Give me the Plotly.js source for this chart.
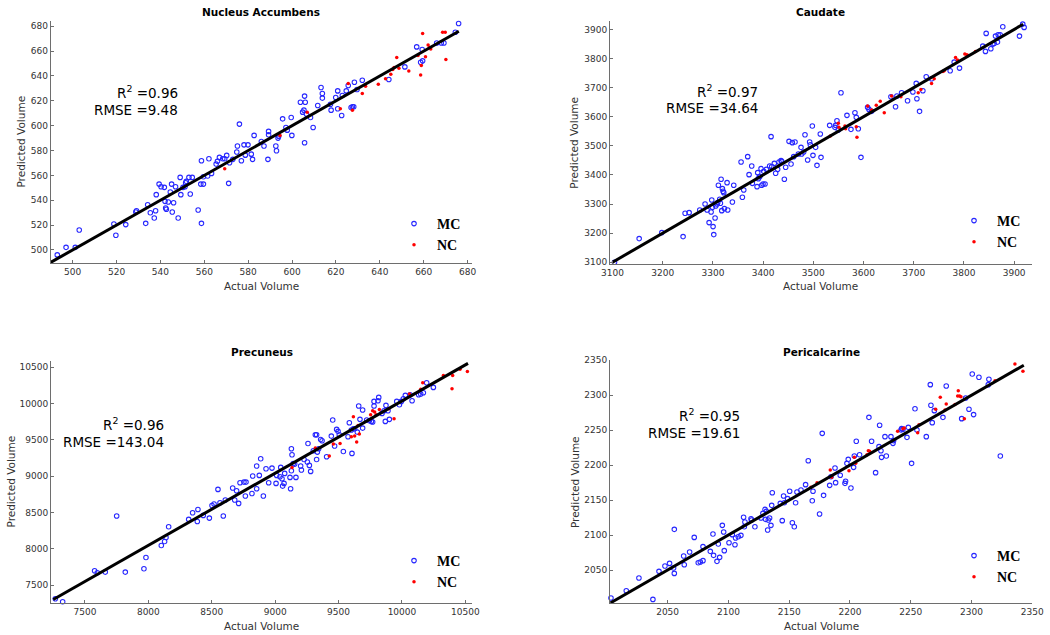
<!DOCTYPE html>
<html>
<head>
<meta charset="utf-8">
<script src="https://cdn.plot.ly/plotly-3.0.1.min.js"></script>
<style>html,body{margin:0;padding:0;background:#fff;}#chart{width:1050px;height:635px;}</style>
</head>
<body>
<div id="chart"></div>
<script>
// ---------- Nucleus Accumbens ----------
const naMcActual = [493.0,497.0,501.2,503.0,518.8,519.7,524.2,528.8,529.1,533.3,534.2,535.4,537.2,538.1,537.8,539.4,540.3,541.8,542.1,542.4,542.7,543.6,544.5,545.1,545.4,546.0,546.9,548.1,549.0,549.3,550.3,551.2,551.5,551.8,553.0,553.6,554.5,557.2,558.7,558.4,558.7,559.6,559.6,561.5,562.1,563.3,565.4,566.0,566.9,568.4,569.3,570.2,571.1,571.5,573.0,574.8,575.1,576.0,576.9,578.1,578.7,579.9,581.4,582.0,582.7,586.0,587.2,589.3,589.3,589.0,592.6,592.9,593.6,593.9,595.7,597.2,597.8,599.6,599.9,603.8,604.8,605.7,606.0,605.7,605.4,606.6,608.4,609.6,611.7,613.2,613.8,613.8,617.5,617.8,619.9,620.8,620.8,622.6,622.9,624.7,625.6,626.9,627.5,628.1,628.4,629.6,632.0,644.1,651.4,656.8,659.3,658.6,659.5,665.9,668.0,669.2,674.4,675.9];
const naMcPred = [496.0,502.1,502.1,516.1,520.9,511.8,520.4,530.5,531.6,521.4,536.4,530.0,525.7,544.5,531.6,553.0,550.9,550.4,539.1,533.8,532.7,538.6,546.6,553.0,530.5,538.0,550.9,525.7,558.4,544.5,550.4,550.9,554.1,555.2,558.4,545.0,558.4,532.1,521.4,553.0,571.8,553.0,558.9,559.5,573.4,561.6,569.1,571.3,574.5,573.4,573.4,576.1,553.6,570.2,572.9,578.8,583.6,601.3,571.8,584.6,576.3,584.6,577.1,572.9,592.2,587.3,583.6,595.4,592.7,572.9,583.6,579.8,590.0,591.6,605.5,598.6,596.4,606.6,592.2,618.9,610.9,623.8,618.9,586.3,612.5,609.3,606.6,598.6,616.3,630.7,625.9,622.2,617.3,612.5,622.7,628.0,613.6,608.2,624.3,628.0,632.3,614.7,615.2,615.2,635.0,629.1,636.6,637.2,647.3,663.4,661.3,651.1,652.2,666.6,666.6,666.6,675.2,682.2];
const naNcActual = [569.3,594.5,606.9,622.0,625.6,627.5,632.0,633.5,639.3,642.6,645.0,646.5,647.7,648.7,653.2,657.4,658.6,658.9,659.5,660.8,662.0,662.6,663.2,668.6,669.8,670.1,645.9];
const naNcPred = [565.4,592.2,610.9,613.6,633.9,612.5,625.9,631.8,633.4,637.7,641.4,646.8,654.8,646.3,644.1,656.4,640.9,648.4,674.1,655.4,665.0,662.9,661.8,675.2,675.2,653.2,645.2];
const naFitX = [490, 676];
const naFitY = [490, 676];
const naTicks = [500,520,540,560,580,600,620,640,660,680];

// ---------- Caudate ----------
const caMcActual = [3104.0,3153.1,3198.2,3240.6,3244.6,3252.6,3273.8,3284.4,3288.4,3292.4,3296.4,3297.7,3299.0,3300.3,3301.7,3304.3,3305.6,3308.3,3309.6,3310.9,3313.6,3314.9,3316.3,3317.6,3318.9,3320.2,3321.6,3322.9,3328.2,3329.5,3338.8,3341.5,3356.1,3358.7,3361.4,3369.3,3372.0,3377.3,3378.6,3387.9,3389.2,3390.5,3393.2,3395.9,3397.2,3399.8,3401.2,3403.8,3406.5,3413.1,3415.8,3417.1,3422.4,3425.0,3429.0,3431.7,3435.7,3437.0,3442.3,3444.9,3451.6,3455.6,3458.2,3460.9,3463.5,3470.2,3475.5,3476.8,3480.8,3483.4,3488.7,3492.7,3494.0,3498.0,3499.3,3504.6,3507.3,3513.9,3515.3,3532.5,3543.1,3544.4,3547.1,3549.8,3555.1,3567.0,3575.0,3582.9,3585.6,3589.6,3594.9,3608.1,3610.8,3616.1,3654.6,3663.8,3666.5,3675.8,3687.7,3698.3,3705.0,3706.3,3711.6,3718.2,3724.9,3735.5,3772.6,3780.6,3791.2,3837.6,3842.9,3844.3,3853.6,3857.5,3860.2,3862.9,3866.8,3868.2,3872.1,3877.4,3910.6,3917.2,3919.9];
const caMcPred = [3100,3181.3,3201.9,3188.1,3268.2,3270.5,3279.7,3300.3,3279.7,3236.2,3272.8,3314.0,3288.8,3222.5,3195.0,3252.2,3293.4,3300.3,3304.9,3364.4,3316.3,3302.6,3385.0,3277.4,3352.9,3343.8,3339.2,3284.3,3373.5,3279.7,3307.2,3364.4,3444.5,3323.2,3348.4,3462.8,3401.0,3430.8,3371.2,3359.8,3407.9,3387.3,3394.1,3421.6,3364.4,3369.0,3412.4,3369.0,3419.3,3430.8,3531.5,3428.5,3439.9,3405.6,3419.3,3444.5,3449.1,3446.8,3385.0,3426.2,3515.5,3437.6,3510.9,3462.8,3513.2,3472.0,3494.8,3472.0,3478.8,3538.3,3451.4,3513.2,3504.0,3568.1,3467.4,3494.8,3433.0,3540.6,3460.5,3570.4,3563.5,3570.4,3586.4,3554.4,3682.5,3604.7,3556.7,3613.9,3597.9,3558.9,3460.5,3632.2,3625.3,3618.5,3668.8,3634.5,3671.1,3682.5,3655.1,3684.8,3714.6,3661.9,3618.5,3689.4,3737.5,3730.6,3758.1,3787.8,3767.2,3842.8,3824.5,3886.3,3833.6,3849.6,3851.9,3877.1,3856.5,3881.7,3881.7,3909.2,3877.1,3918.3,3906.9];
const caNcActual = [3533.8,3549.8,3551.1,3563.0,3564.3,3585.6,3586.9,3608.1,3616.1,3625.4,3633.3,3641.3,3655.9,3674.5,3709.0,3714.3,3735.5,3740.8,3758.1,3760.7,3783.3,3787.2,3801.8,3805.8,3808.5,3823.1];
const caNcPred = [3533.8,3577.3,3563.5,3568.1,3558.9,3565.8,3529.2,3636.8,3623.0,3639.1,3652.8,3613.9,3671.1,3668.8,3682.5,3694.0,3714.6,3730.6,3755.8,3758.1,3803.9,3794.7,3815.3,3813.0,3810.7,3824.5];
const caFitX = [3100, 3918];
const caFitY = [3100, 3918];
const caTicks = [3100,3200,3300,3400,3500,3600,3700,3800,3900];

// ---------- Precuneus ----------
const prMcActual = [7266,7324,7576,7597,7660,7750,7818,7965,7981,8102,8128,8139,8160,8318,8349,8386,8391,8433,8481,8502,8518,8549,8565,8591,8607,8665,8681,8696,8712,8723,8754,8765,8770,8817,8823,8854,8854,8875,8886,8907,8928,8949,8975,9007,9012,9038,9044,9054,9059,9070,9075,9117,9122,9128,9128,9133,9143,9154,9164,9201,9207,9228,9254,9259,9270,9280,9301,9317,9327,9327,9333,9343,9359,9370,9406,9443,9454,9469,9485,9496,9506,9538,9575,9585,9601,9606,9617,9627,9648,9659,9669,9690,9690,9722,9743,9759,9769,9780,9780,9811,9817,9843,9859,9869,9874,9890,9901,9959,9980,9995,10011,10027,10064,10080,10132,10148,10169,10195,10248];
const prMcPred = [7312,7271,7697,7670,7679,8450,7679,7725,7881,8046,8101,8156,8303,8404,8495,8376,8541,8459,8422,8596,8615,8817,8633,8450,8670,8835,8670,8798,8624,8908,8917,8725,8917,8761,9000,9138,8826,9009,9238,8725,9101,8908,9110,8899,9009,8991,9119,8963,8862,8899,9037,8982,8826,9376,9073,9294,9174,9165,8982,9138,9083,9229,9193,9449,9147,9064,9349,9569,9569,9229,9330,9376,9504,9486,9266,9550,9771,9413,9642,9615,9569,9339,9541,9734,9633,9312,9651,9651,9605,9963,9780,9908,9660,9771,9761,9752,9743,10027,9963,10037,10082,9862,9899,9752,9972,9899,9780,10027,9982,10027,10064,10110,10119,10037,10119,10128,10147,10284,10220];
const prNcActual = [9133,9427,9459,9512,9601,9617,9627,9643,9654,9664,9753,9769,9785,9796,9822,9896,9938,10059,10148,10164,10327,10395,10400,10458,10516,9317];
const prNcPred = [9119,9275,9440,9449,9541,9816,9550,9468,9697,9578,9844,9899,9881,9844,9917,9927,9789,10128,10193,10284,10385,10202,10385,10468,10440,9385];
const prFitX = [7250, 10521];
const prFitY = [7303, 10550];
const prTicks = [7500,8000,8500,9000,9500,10000,10500];

// ---------- Pericalcarine ----------
const peMcActual = [2003.4,2016.0,2026.4,2037.9,2042.9,2047.8,2051.6,2054.9,2055.5,2055.5,2063.2,2063.7,2068.1,2071.9,2075.2,2076.9,2079.1,2079.1,2085.1,2087.3,2087.8,2090.6,2091.7,2092.8,2095.0,2096.1,2096.6,2100.5,2103.2,2105.4,2105.9,2108.1,2110.3,2112.5,2113.1,2113.6,2118.6,2119.1,2121.8,2126.8,2128.4,2130.1,2130.6,2131.2,2132.3,2132.8,2133.9,2135.0,2135.6,2136.1,2142.7,2144.3,2145.4,2146.0,2148.7,2150.4,2152.6,2154.2,2155.3,2156.4,2159.7,2163.5,2165.7,2169.0,2169.6,2175.0,2177.2,2178.3,2183.3,2184.4,2187.7,2188.2,2192.0,2195.9,2196.4,2197.5,2198.6,2200.8,2203.0,2203.6,2205.2,2207.9,2215.6,2217.8,2221.1,2223.9,2224.4,2225.5,2226.0,2228.8,2229.9,2233.7,2235.4,2235.9,2242.0,2242.5,2243.6,2246.9,2248.0,2250.7,2253.5,2255.1,2262.8,2266.1,2266.6,2267.7,2269.4,2276.5,2279.2,2291.9,2295.2,2297.9,2300.6,2301.7,2306.1,2313.8,2314.3,2323.7];
const peMcPred = [2009.9,2020.4,2038.6,2008.0,2048.1,2055.7,2059.5,2052.9,2108.2,2045.2,2070.0,2057.6,2075.8,2096.7,2060.5,2061.4,2063.4,2083.4,2076.7,2101.5,2071.0,2062.4,2087.2,2068.1,2113.9,2104.4,2077.7,2089.1,2100.6,2086.2,2095.8,2097.7,2099.6,2125.4,2112.0,2118.7,2123.4,2121.5,2112.0,2124.4,2131.1,2136.8,2122.5,2133.9,2107.2,2121.5,2124.4,2113.9,2142.5,2160.6,2145.4,2120.6,2155.9,2146.3,2152.1,2162.6,2117.7,2112.0,2146.3,2161.6,2164.5,2172.1,2206.4,2149.2,2162.6,2130.1,2245.5,2156.8,2171.1,2183.5,2195.9,2175.0,2185.5,2174.0,2176.9,2202.6,2208.3,2167.3,2196.9,2213.1,2234.1,2215.0,2268.4,2234.1,2189.3,2226.5,2257.0,2220.7,2211.2,2240.8,2213.1,2240.8,2231.2,2235.1,2250.3,2252.2,2251.3,2239.8,2254.1,2202.6,2280.8,2250.3,2240.8,2315.2,2285.6,2260.8,2278.0,2268.4,2313.3,2266.5,2296.1,2279.9,2330.4,2272.3,2325.7,2315.2,2322.8,2213.1];
const peNcActual = [2167.9,2172.9,2183.8,2184.9,2199.2,2203.6,2204.7,2214.0,2215.1,2216.2,2239.2,2243.6,2244.7,2255.7,2256.8,2270.5,2274.3,2278.2,2279.2,2286.4,2288.6,2289.1,2290.2,2291.3,2294.1,2319.3,2335.7,2342.3];
const peNcPred = [2168.3,2175.0,2193.1,2182.6,2192.1,2211.2,2202.6,2215.0,2220.7,2219.8,2248.4,2252.2,2253.2,2246.5,2257.9,2279.9,2297.1,2278.9,2287.5,2286.6,2299.0,2306.6,2299.0,2298.0,2266.5,2320.9,2344.7,2334.3];
const peFitX = [2003, 2343];
const peFitY = [2003, 2343];
const peTicks = [2050,2100,2150,2200,2250,2300,2350];

const panelTitles = ["Nucleus Accumbens", "Caudate", "Precuneus", "Pericalcarine"];
const r2Values = ["0.96", "0.97", "0.96", "0.95"];
const rmseValues = ["9.48", "34.64", "143.04", "19.61"];
const groupNames = ["MC", "NC"];

// ---------- layout helpers (pixel geometry of figure) ----------
const W = 1050, H = 635;
const px = v => v / W;
const py = v => 1 - v / H;

const panels = [
  {mcX: naMcActual, mcY: naMcPred, ncX: naNcActual, ncY: naNcPred, fx: naFitX, fy: naFitY, ticks: naTicks,
   xr: [490, 682], yr: [489.5, 684.5], box: [50.7, 472, 20.7, 263],
   txtRight: 179.5, txtY: [91.5, 109.5], titleY: 11.5, xtitY: 286, ytitX: 20.7, leg: [391, 208]},
  {mcX: caMcActual, mcY: caMcPred, ncX: caNcActual, ncY: caNcPred, fx: caFitX, fy: caFitY, ticks: caTicks,
   xr: [3095, 3935], yr: [3094, 3930], box: [610, 1031.7, 20.7, 264],
   txtRight: 760, txtY: [90.5, 108], titleY: 11.5, xtitY: 286, ytitX: 574.3, leg: [951, 205]},
  {mcX: prMcActual, mcY: prMcPred, ncX: prNcActual, ncY: prNcPred, fx: prFitX, fy: prFitY, ticks: prTicks,
   xr: [7232, 10555], yr: [7250, 10587], box: [51, 472.3, 360.7, 603.3],
   txtRight: 165.7, txtY: [424, 442], titleY: 351.5, xtitY: 625.5, ytitX: 10.5, leg: [391, 545]},
  {mcX: peMcActual, mcY: peMcPred, ncX: peNcActual, ncY: peNcPred, fx: peFitX, fy: peFitY, ticks: peTicks,
   xr: [2002.6, 2350], yr: [2002.4, 2350], box: [610, 1032.3, 360.3, 603.3],
   txtRight: 742.3, txtY: [414.5, 432.5], titleY: 351.5, xtitY: 625.5, ytitX: 574.3, leg: [951, 540]}
];

const traces = [];
const layout = {
  width: W, height: H,
  margin: {l: 0, r: 0, t: 0, b: 0},
  paper_bgcolor: '#ffffff', plot_bgcolor: '#ffffff',
  font: {family: 'DejaVu Sans, sans-serif', color: '#262626'},
  annotations: []
};

const axisCommon = {
  showgrid: false, zeroline: false, showline: true, linecolor: '#6e6e6e', linewidth: 1,
  ticks: 'inside', ticklen: 3, tickwidth: 1, tickcolor: '#6e6e6e', tickformat: 'd',
  tickfont: {family: 'DejaVu Sans, sans-serif', size: 9, color: '#333333'},
  mirror: false, fixedrange: true
};

panels.forEach((p, i) => {
  const n = i + 1;
  const xa = 'x' + (n === 1 ? '' : n), ya = 'y' + (n === 1 ? '' : n);
  const legKey = 'legend' + (n === 1 ? '' : n);
  traces.push({
    type: 'scatter', mode: 'markers', x: p.mcX, y: p.mcY, xaxis: xa, yaxis: ya,
    name: groupNames[0], legend: legKey, cliponaxis: false,
    marker: {symbol: 'circle-open', size: 4.5, color: '#2626ff', line: {width: 1.1, color: '#2626ff'}}
  });
  traces.push({
    type: 'scatter', mode: 'markers', x: p.ncX, y: p.ncY, xaxis: xa, yaxis: ya,
    name: groupNames[1], legend: legKey, cliponaxis: false,
    marker: {symbol: 'circle', size: 3.5, color: '#ff0000'}
  });
  traces.push({
    type: 'scatter', mode: 'lines', x: p.fx, y: p.fy, xaxis: xa, yaxis: ya,
    showlegend: false, cliponaxis: false, line: {color: '#000000', width: 3}, hoverinfo: 'skip'
  });

  const b = p.box;
  layout['xaxis' + (n === 1 ? '' : n)] = Object.assign({}, axisCommon, {
    domain: [px(b[0]), px(b[1])], range: p.xr, anchor: ya, tickvals: p.ticks
  });
  layout['yaxis' + (n === 1 ? '' : n)] = Object.assign({}, axisCommon, {
    domain: [py(b[3]), py(b[2])], range: p.yr, anchor: xa, tickvals: p.ticks
  });
  layout[legKey] = {
    x: px(p.leg[0]), y: py(p.leg[1]), xanchor: 'left', yanchor: 'top',
    bgcolor: 'rgba(0,0,0,0)', borderwidth: 0, tracegroupgap: 0, itemwidth: 36,
    font: {family: 'Liberation Serif, serif', size: 14, color: '#000000', weight: 'bold'}
  };

  const cx = (b[0] + b[1]) / 2;
  layout.annotations.push(
    {text: '<b>' + panelTitles[i] + '</b>', xref: 'paper', yref: 'paper', x: px(cx), y: py(p.titleY),
     xanchor: 'center', yanchor: 'middle', showarrow: false, font: {size: 10.5, color: '#000000'}},
    {text: 'Actual Volume', xref: 'paper', yref: 'paper', x: px(cx), y: py(p.xtitY),
     xanchor: 'center', yanchor: 'middle', showarrow: false, font: {size: 10.5, color: '#333333'}},
    {text: 'Predicted Volume', xref: 'paper', yref: 'paper', x: px(p.ytitX), y: py((b[2] + b[3]) / 2),
     xanchor: 'center', yanchor: 'middle', textangle: -90, showarrow: false, font: {size: 10.5, color: '#333333'}},
    {text: 'R<sup>2</sup> =' + r2Values[i], xref: 'paper', yref: 'paper', x: px(p.txtRight), y: py(p.txtY[0]),
     xanchor: 'right', yanchor: 'middle', showarrow: false, font: {size: 13.5, color: '#000000'}},
    {text: 'RMSE =' + rmseValues[i], xref: 'paper', yref: 'paper', x: px(p.txtRight), y: py(p.txtY[1]),
     xanchor: 'right', yanchor: 'middle', showarrow: false, font: {size: 13.5, color: '#000000'}}
  );
});

Plotly.newPlot('chart', traces, layout, {displayModeBar: false, staticPlot: true});
</script>
</body>
</html>
